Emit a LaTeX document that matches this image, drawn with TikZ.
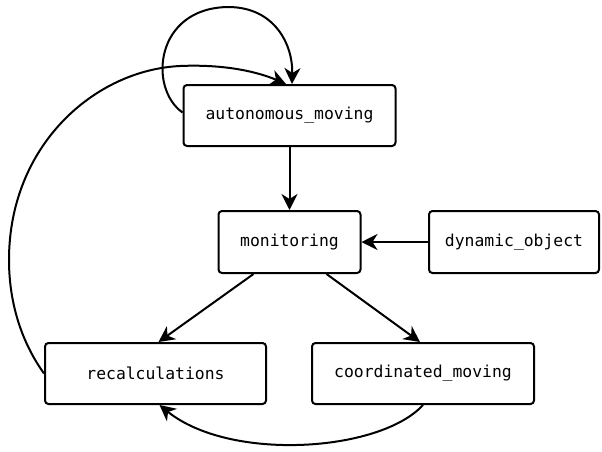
\documentclass[tikz,border=0pt]{standalone}
\usepackage{fontspec}
\setmonofont{DejaVu Sans Mono}
\usetikzlibrary{arrows.meta}
\begin{document}
\begin{tikzpicture}[x=1pt,y=-1pt,
  state/.style={draw, line width=2pt, rounded corners=3.5pt, inner sep=0pt,
    font=\fontsize{16.4pt}{19pt}\ttfamily},
  edge/.style={line width=2pt, -{Stealth[length=16pt,width=16pt,inset=5pt]}}]
\useasboundingbox (0,0) rectangle (602,451);
\node[state, minimum width=212pt, minimum height=61pt] (aut) at (289.5,115.5) {autonomous\_moving};
\node[state, minimum width=142pt, minimum height=62pt] (mon) at (289.5,242) {monitoring};
\node[state, minimum width=170pt, minimum height=62pt] (dyn) at (514,242) {dynamic\_object};
\node[state, minimum width=221pt, minimum height=61pt] (rec) at (155.5,373.5) {recalculations};
\node[state, minimum width=222pt, minimum height=61pt] (crd) at (423,373.5) {coordinated\_moving};

% straight transitions
\draw[edge] (aut.south) -- (mon.north);
\draw[edge] (dyn.west) -- (mon.east);
\draw[edge] ([xshift=-36pt]mon.south) -- ([xshift=3pt]rec.north);
\draw[edge] ([xshift=37pt]mon.south) -- ([xshift=-3pt]crd.north);

% self loop on autonomous_moving
\draw[edge] ([yshift=3pt]aut.west) .. controls (148,88) and (155,8) .. (228,7)
  .. controls (275,7) and (293,45) .. ([xshift=2.5pt]aut.north);

% recalculations back to autonomous_moving
\draw[edge] (rec.west) .. controls (20,340) and (9,300) .. (9,260)
  .. controls (9,145) and (95,70) .. (180,66)
  .. controls (225,64) and (258,72) .. ([xshift=-3.5pt]aut.north);

% coordinated_moving back to recalculations
\draw[edge] (crd.south) .. controls (380,452) and (230,462) .. ([xshift=4pt]rec.south);
\end{tikzpicture}
\end{document}
